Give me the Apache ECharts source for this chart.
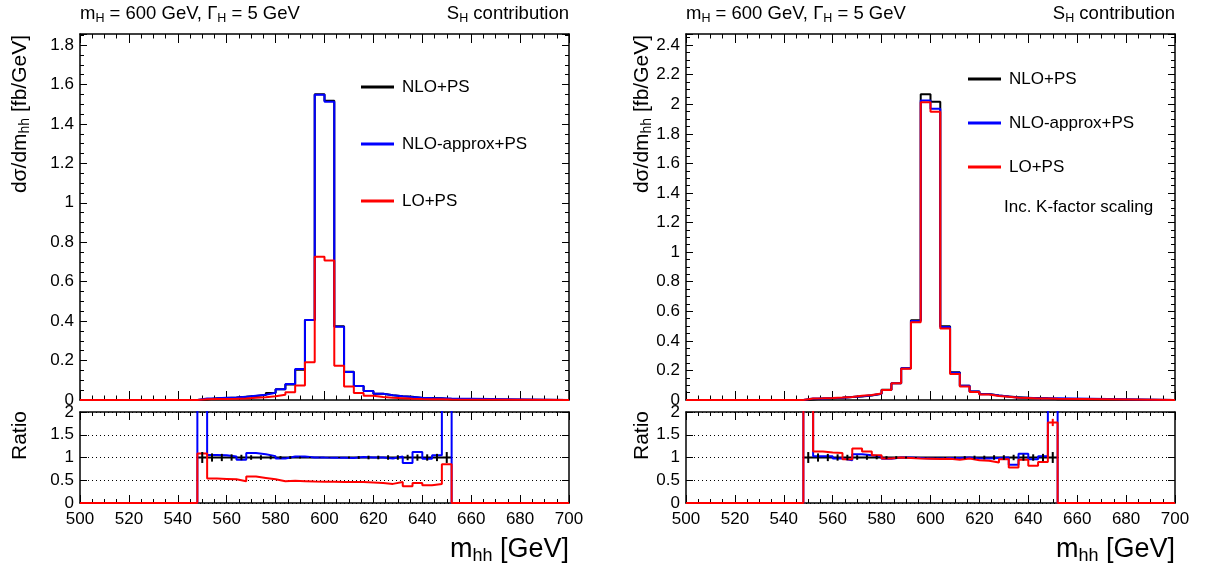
<!DOCTYPE html>
<html><head><meta charset="utf-8">
<script src="https://cdn.jsdelivr.net/npm/echarts@6/dist/echarts.min.js"></script>
<style>html,body{margin:0;padding:0;background:#fff}#c{width:1207px;height:572px}</style>
</head><body><div id="c"></div>
<script>
// ---------- DATA ----------
const binLow = [548,552,556,560,564,568,572,576,580,584,588,592,596,600,604,608,612,616,620,624,628,632,636,640,644,648];
const binWidth = 4;
const xRange = [500, 700];
const xTicks = [500,520,540,560,580,600,620,640,660,680,700];
const seriesNames = ['NLO+PS', 'NLO-approx+PS', 'LO+PS'];

// Left panel (no K-factor)
const leftNLO    = [0.003,0.0085,0.0105,0.0127,0.0168,0.020,0.025,0.036,0.055,0.079,0.154,0.406,1.551,1.518,0.374,0.143,0.071,0.046,0.032,0.0245,0.0186,0.017,0.0107,0.0103,0.0086,0.003];
const leftApprox = [0.008,0.009,0.011,0.013,0.016,0.022,0.027,0.037,0.054,0.081,0.157,0.406,1.548,1.513,0.372,0.142,0.071,0.046,0.032,0.024,0.019,0.015,0.012,0.010,0.009,0.008];
const leftLO     = [0.0033,0.0046,0.0056,0.0066,0.0081,0.0116,0.0138,0.0187,0.0264,0.0387,0.074,0.191,0.727,0.708,0.174,0.068,0.036,0.022,0.015,0.011,0.0086,0.0063,0.0047,0.004,0.0036,0.0026];
const leftRatioApprox = [2.5,1.055,1.05,1.02,0.95,1.10,1.07,1.03,0.98,1.02,1.02,1.0,0.998,0.997,0.995,0.99,1.01,1.0,1.0,0.98,1.02,0.88,1.12,0.97,1.05,2.5];
const leftRatioLO     = [1.09,0.54,0.53,0.52,0.48,0.58,0.55,0.52,0.48,0.49,0.48,0.47,0.469,0.466,0.46,0.46,0.46,0.45,0.44,0.42,0.46,0.37,0.44,0.39,0.42,0.85];
const leftRatioNLOerr = [0.12,0.09,0.08,0.07,0.06,0.05,0.05,0.04,0.03,0.03,0.02,0.01,0.005,0.005,0.01,0.02,0.03,0.04,0.04,0.05,0.05,0.06,0.07,0.07,0.08,0.12];

// Right panel (inc. K-factor scaling)
const rightNLO    = [0.004,0.0105,0.0125,0.0155,0.021,0.024,0.030,0.042,0.069,0.113,0.214,0.539,2.067,2.017,0.498,0.187,0.096,0.058,0.040,0.030,0.023,0.019,0.015,0.013,0.011,0.005];
const rightApprox = [0.010,0.0108,0.0129,0.0152,0.0197,0.0257,0.0315,0.0428,0.067,0.113,0.214,0.534,2.026,1.970,0.493,0.185,0.096,0.057,0.039,0.030,0.023,0.016,0.016,0.0125,0.0113,0.011];
const rightLO     = [0.010,0.0119,0.0139,0.0169,0.0202,0.0288,0.0339,0.0441,0.068,0.113,0.212,0.525,2.013,1.950,0.483,0.176,0.092,0.0545,0.0372,0.0267,0.0221,0.0148,0.0143,0.0107,0.0099,0.0089];
const rightRatioApprox = [2.5,1.03,1.03,0.98,0.94,1.07,1.05,1.02,0.97,1.0,1.0,0.99,0.98,0.977,0.99,0.99,1.0,0.98,0.98,0.99,1.0,0.84,1.08,0.96,1.03,2.5];
const rightRatioLO     = [2.5,1.13,1.11,1.10,0.96,1.20,1.13,1.05,0.98,1.0,0.99,0.98,0.974,0.967,0.97,0.95,0.98,0.94,0.93,0.89,0.96,0.78,0.95,0.82,0.90,1.77];
const rightRatioLOerr  = [0,0,0,0,0,0,0,0,0,0,0,0,0,0,0,0,0,0,0,0,0,0,0,0,0,0.08];
const rightRatioNLOerr = [0.12,0.09,0.08,0.07,0.06,0.05,0.05,0.04,0.03,0.03,0.02,0.01,0.005,0.005,0.01,0.02,0.03,0.04,0.04,0.05,0.05,0.06,0.07,0.07,0.08,0.12];

const mainYMax = [1.856, 2.475];
const mainYStep = [0.2, 0.2];
const ratioY = [0, 2, 0.5];

// ---------- BUILD ----------
const colors = ['#000000', '#0000ff', '#ff0000'];
const FONT = 'Liberation Sans, Arial, Helvetica, sans-serif';

function hist(vals, full) {
  const pts = full ? [[xRange[0], 0]] : [];
  binLow.forEach((x, i) => pts.push([x, vals[i]]));
  const end = binLow[binLow.length - 1] + binWidth;
  if (full) { pts.push([end, 0]); pts.push([xRange[1], 0]); }
  else pts.push([end, vals[vals.length - 1]]);
  return pts;
}
function errData(vals, errs) {
  return binLow.map((x, i) => [x + binWidth / 2, vals[i], errs[i]]).filter(d => d[2] > 0);
}

const grids = [
  {left: 80, width: 489, top: 34, height: 366},
  {left: 80, width: 489, top: 412, height: 91},
  {left: 686, width: 489, top: 34, height: 366},
  {left: 686, width: 489, top: 412, height: 91}
];

const xAxes = [], yAxes = [];
grids.forEach((g, gi) => {
  const isRatio = gi % 2 === 1;
  const tickLen = isRatio ? 8 : 9;
  ['bottom', 'top'].forEach(pos => {
    xAxes.push({
      gridIndex: gi, type: 'value', position: pos, min: xRange[0], max: xRange[1], interval: 20,
      axisLine: {show: true, onZero: false, lineStyle: {color: '#000', width: 1.5}},
      axisTick: {show: true, inside: true, length: tickLen, lineStyle: {color: '#000', width: 1}},
      minorTick: {show: true, splitNumber: 4, length: tickLen / 2, lineStyle: {color: '#000', width: 1}},
      axisLabel: {show: isRatio && pos === 'bottom', color: '#000', fontFamily: FONT, fontSize: 17, margin: 8},
      splitLine: {show: false}
    });
  });
  const panel = gi < 2 ? 0 : 1;
  ['left', 'right'].forEach(pos => {
    const base = {
      gridIndex: gi, type: 'value', position: pos,
      axisLine: {show: true, onZero: false, lineStyle: {color: '#000', width: 1.5}},
      axisTick: {show: true, inside: true, length: 7, lineStyle: {color: '#000', width: 1}},
      minorTick: {show: !isRatio, splitNumber: 4, length: 4, lineStyle: {color: '#000', width: 1}},
      axisLabel: {show: pos === 'left', color: '#000', fontFamily: FONT, fontSize: 17, margin: 6},
      splitLine: {show: false}
    };
    if (isRatio) {
      Object.assign(base, {min: ratioY[0], max: ratioY[1], interval: ratioY[2]});
      base.splitLine = {show: pos === 'left', lineStyle: {color: '#000', type: [1, 3], width: 1}};
    } else {
      const step = mainYStep[panel];
      Object.assign(base, {min: 0, max: mainYMax[panel], interval: step});
      base.axisLabel.formatter = v => (Math.abs(v / step - Math.round(v / step)) < 1e-6 ? String(+v.toFixed(1)) : '');
    }
    yAxes.push(base);
  });
});

function lineSeries(name, color, data, gi) {
  return {
    name, type: 'line', xAxisIndex: gi * 2, yAxisIndex: gi * 2, data, step: 'end',
    showSymbol: false, symbol: 'none', lineStyle: {color, width: 2}, itemStyle: {color},
    animation: false, clip: true, z: 3
  };
}
function errSeries(color, data, gi) {
  return {
    type: 'custom', xAxisIndex: gi * 2, yAxisIndex: gi * 2, data, clip: true, animation: false, z: 4,
    renderItem: (params, api) => {
      const x = api.value(0), y = api.value(1), e = api.value(2);
      const p1 = api.coord([x, y - e]), p2 = api.coord([x, y + e]);
      return {type: 'line', shape: {x1: p1[0], y1: p1[1], x2: p2[0], y2: p2[1]}, style: {stroke: color, lineWidth: 2}};
    }
  };
}

const ones = binLow.map(() => 1);
const series = [
  lineSeries(seriesNames[0], colors[0], hist(leftNLO, true), 0),
  lineSeries(seriesNames[1], colors[1], hist(leftApprox, true), 0),
  lineSeries(seriesNames[2], colors[2], hist(leftLO, true), 0),
  lineSeries(seriesNames[0], colors[0], hist(ones, false), 1),
  errSeries(colors[0], errData(ones, leftRatioNLOerr), 1),
  lineSeries(seriesNames[1], colors[1], hist(leftRatioApprox, true), 1),
  lineSeries(seriesNames[2], colors[2], hist(leftRatioLO, true), 1),
  lineSeries(seriesNames[0], colors[0], hist(rightNLO, true), 2),
  lineSeries(seriesNames[1], colors[1], hist(rightApprox, true), 2),
  lineSeries(seriesNames[2], colors[2], hist(rightLO, true), 2),
  lineSeries(seriesNames[0], colors[0], hist(ones, false), 3),
  errSeries(colors[0], errData(ones, rightRatioNLOerr), 3),
  lineSeries(seriesNames[1], colors[1], hist(rightRatioApprox, true), 3),
  lineSeries(seriesNames[2], colors[2], hist(rightRatioLO, true), 3),
  errSeries(colors[2], errData(rightRatioLO, rightRatioLOerr), 3)
];

const legendBase = {
  orient: 'vertical', icon: 'rect', itemWidth: 33, itemHeight: 3,
  textStyle: {color: '#000', fontFamily: FONT, fontSize: 17, lineHeight: 20, padding: [0, 0, 0, 3]},
  selectedMode: false, data: seriesNames
};
const legends = [
  Object.assign({}, legendBase, {left: 356, top: 72, itemGap: 37}),
  Object.assign({}, legendBase, {left: 963, top: 64, itemGap: 24})
];

const rich = {
  a: {fontSize: 18.5, fontFamily: FONT, fill: '#000'},
  s: {fontSize: 12.5, fontFamily: FONT, fill: '#000', padding: [9, 0, 0, 0]}
};
const richY = {
  a: {fontSize: 21, fontFamily: FONT, fill: '#000'},
  s: {fontSize: 14, fontFamily: FONT, fill: '#000', padding: [10, 0, 0, 0]}
};
const richX = {
  a: {fontSize: 27, fontFamily: FONT, fill: '#000'},
  s: {fontSize: 18, fontFamily: FONT, fill: '#000', padding: [13, 0, 0, 0]}
};
const graphics = [];
[[80, 569], [686, 1175]].forEach(([l, r], pi) => {
  graphics.push({type: 'text', x: l, y: 14, style: {text: '{a|m}{s|H}{a| = 600 GeV, Γ}{s|H}{a| = 5 GeV}', rich, align: 'left', verticalAlign: 'middle'}});
  graphics.push({type: 'text', x: r, y: 14, style: {text: '{a|S}{s|H}{a| contribution}', rich, align: 'right', verticalAlign: 'middle'}});
  const ytx = pi === 0 ? 20 : 642;
  graphics.push({type: 'text', x: ytx, y: 35, rotation: Math.PI / 2, style: {text: '{a|dσ/dm}{s|hh}{a| [fb/GeV]}', rich: richY, align: 'right', verticalAlign: 'middle'}});
  graphics.push({type: 'text', x: ytx, y: 411, rotation: Math.PI / 2, style: {text: 'Ratio', font: '21px ' + FONT, fill: '#000', align: 'right', verticalAlign: 'middle'}});
  graphics.push({type: 'text', x: r, y: 550, style: {text: '{a|m}{s|hh}{a| [GeV]}', rich: richX, align: 'right', verticalAlign: 'middle'}});
});
graphics.push({type: 'text', x: 1004, y: 207, style: {text: 'Inc. K-factor scaling', font: '17px ' + FONT, fill: '#000', align: 'left', verticalAlign: 'middle'}});

const chart = echarts.init(document.getElementById('c'), null, {renderer: 'canvas'});
chart.setOption({
  animation: false, backgroundColor: '#fff',
  grid: grids.map(g => Object.assign({containLabel: false, show: false}, g)),
  xAxis: xAxes, yAxis: yAxes, legend: legends, series, graphic: graphics
});
</script></body></html>
